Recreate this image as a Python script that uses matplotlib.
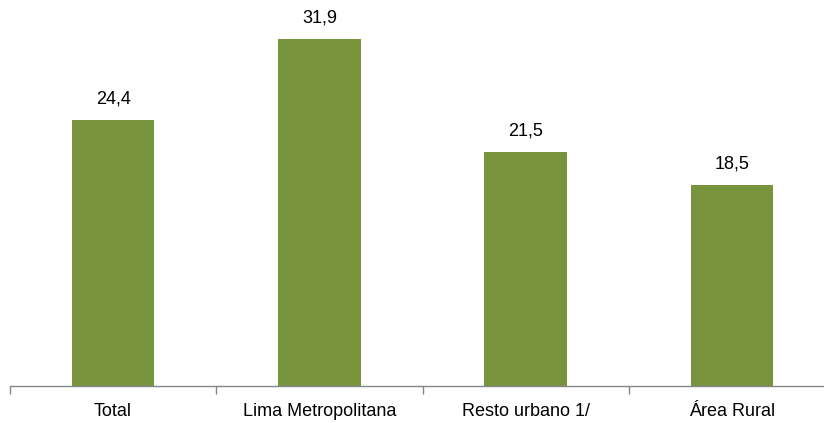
import matplotlib.pyplot as plt
from matplotlib import font_manager

categories = ["Total", "Lima Metropolitana", "Resto urbano 1/", "Área Rural"]
values = [24.4, 31.9, 21.5, 18.5]
value_labels = ["24,4", "31,9", "21,5", "18,5"]

names = {f.name for f in font_manager.fontManager.ttflist}
family = ["Liberation Sans Narrow", "Liberation Sans", "DejaVu Sans"]
family = [f for f in family if f in names] or ["DejaVu Sans"]
plt.rcParams["font.family"] = family

fig = plt.figure(figsize=(8.24, 4.23), dpi=100)
W, H = 824, 423
# axes spans one category width per 206 px, left edge at x=10, baseline at y=386
ax = fig.add_axes([10 / W, (H - 386) / H, 825 / W, 381 / H])

x = range(len(categories))
ax.bar(x, values, width=0.40, color="#77933C", zorder=2)

for xi, v, lab in zip(x, values, value_labels):
    ax.annotate(lab, (xi, v), xytext=(0, 9), textcoords="offset points",
                ha="center", va="bottom", fontsize=13, color="#000000")

ax.set_xlim(-0.5, len(categories) - 0.5)
ax.set_ylim(0, 35)

for side in ["top", "right", "left"]:
    ax.spines[side].set_visible(False)
ax.spines["bottom"].set_color("#868686")
ax.spines["bottom"].set_linewidth(1.0)

ax.set_yticks([])
ax.set_xticks([i - 0.5 for i in range(len(categories) + 1)])
ax.set_xticklabels([])
ax.tick_params(axis="x", length=6, color="#868686", width=1.0, direction="out")
ax.set_xticks(list(x), minor=True)
ax.set_xticklabels(categories, minor=True, fontsize=13)
ax.tick_params(axis="x", which="minor", length=0, pad=12)

fig.savefig("out.png", dpi=100)
